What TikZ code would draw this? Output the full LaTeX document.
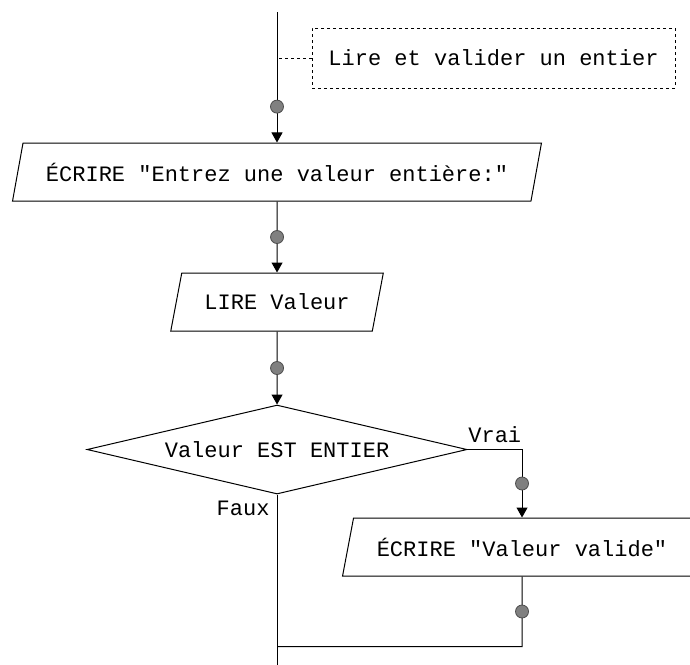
\documentclass[tikz,border=0pt]{standalone}
\usepackage{fontspec}
\setmonofont{Liberation Mono}
\usetikzlibrary{shapes.geometric,arrows.meta,positioning}

\begin{document}
\begin{tikzpicture}[node distance=71pt,>={Triangle[length=10pt,width=11pt]},line width=1pt,
        every node/.style={font=\ttfamily\fontsize{22}{26}\selectfont},
        io/.style={trapezium,trapezium left angle=69,trapezium right angle=111,
            trapezium stretches=true,draw,minimum height=58pt},
        test/.style={diamond,draw,aspect=4.27,minimum width=380pt,minimum height=89pt},
        dot/.style={circle,fill=black!50,draw=black!70,line width=0.8pt,minimum size=13pt,inner sep=0pt},
        note/.style={draw,dash pattern=on 3pt off 3pt,minimum width=363pt,minimum height=60pt}]
        \useasboundingbox (0,0) rectangle (690pt,-664pt);
        \coordinate (top) at (277pt,-12pt);
        \node[note] (cmt) at (493.5pt,-58pt) {Lire et valider un entier};
        \node[io,minimum width=530pt] (io_1) at (277pt,-172pt) {ÉCRIRE "Entrez une valeur entière:"};
        \node[io,minimum width=213pt,below=of io_1] (io_2) {LIRE Valeur};
        \node[test,below=73pt of io_2] (cond) {Valeur EST ENTIER};
        \node[io,minimum width=359pt] (io_3) at (522pt,-547pt) {ÉCRIRE "Valeur valide"};
        \coordinate[below=70pt of io_3.south] (join);
        \coordinate (bot) at (cond.south |- 0,-670pt);
        \draw[dash pattern=on 3pt off 3pt] (cmt.west) -- (cmt.west -| top);
        \draw[->] (top) -- node[dot,pos=.725] (d_1) {} (io_1);
        \path[->]
            (io_1)
                edge node[dot] (d_2) {} (io_2)
            (io_2)
                edge node[dot] (d_3) {} (cond);
        \draw[->] (cond.east) -| node[pos=.25,above=6pt,inner sep=0pt] (vrai) {Vrai}
            node[dot,pos=.75] (d_4) {} (io_3);
        \draw (io_3) -- node[dot] (d_5) {} (join) -- (join -| cond.south);
        \draw (cond.south) -- node[pos=0,anchor=east,xshift=-7pt,yshift=-14pt,inner sep=0pt] (faux) {Faux} (bot);
    \end{tikzpicture}
\end{document}
